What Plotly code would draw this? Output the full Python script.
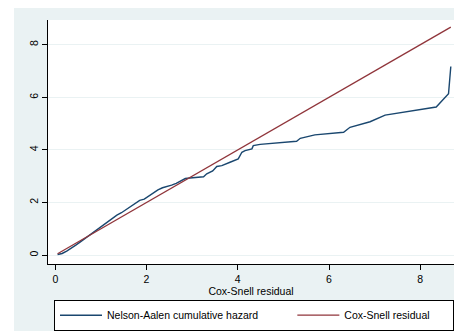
import plotly.graph_objects as go

# Cox-Snell residuals (sorted) and Nelson-Aalen cumulative hazard
cox_snell = [0.05, 0.15, 0.25, 0.35, 0.45, 0.55, 0.65, 0.75, 0.85, 0.95,
             1.05, 1.15, 1.25, 1.35, 1.45, 1.55, 1.65, 1.75, 1.85, 1.95,
             2.05, 2.15, 2.25, 2.35, 2.45, 2.55, 2.65, 2.75, 2.85, 2.95,
             3.05, 3.15, 3.25, 3.32, 3.45, 3.54, 3.65, 3.83, 3.95, 4.01,
             4.09, 4.16, 4.31, 4.34, 4.49, 5.29, 5.37, 5.69, 6.32, 6.46,
             6.90, 7.23, 8.35, 8.62, 8.67]
nelson_aalen = [0.02, 0.06, 0.15, 0.28, 0.38, 0.50, 0.63, 0.76, 0.88, 1.02,
                1.15, 1.26, 1.39, 1.52, 1.61, 1.73, 1.84, 1.97, 2.08, 2.13,
                2.24, 2.38, 2.48, 2.56, 2.60, 2.66, 2.73, 2.82, 2.91, 2.93,
                2.94, 2.97, 2.98, 3.09, 3.20, 3.37, 3.40, 3.53, 3.60, 3.66,
                3.91, 3.97, 4.04, 4.16, 4.21, 4.33, 4.44, 4.57, 4.67, 4.86,
                5.07, 5.32, 5.63, 6.14, 7.17]

x_ticks = [0, 2, 4, 6, 8]
y_ticks = [0, 2, 4, 6, 8]

series_names = ["Nelson-Aalen cumulative hazard", "Cox-Snell residual"]

BG = "#eaf2f3"
FONT = "Liberation Sans, Arial, sans-serif"
FS = 10.5
NB = "\u00a0"

fig = go.Figure()
fig.add_trace(go.Scatter(x=cox_snell, y=nelson_aalen, mode="lines",
                         name=series_names[0] + NB * 10,
                         line=dict(color="#1a476f", width=1.4)))
fig.add_trace(go.Scatter(x=cox_snell, y=cox_snell, mode="lines",
                         name=series_names[1] + NB * 6,
                         line=dict(color="#90353b", width=1.3)))

W, H = 454, 331
L, R, T, B = 48, 0, 20, 65
pw, ph = W - L - R, H - T - B

fig.update_layout(
    width=W, height=H,
    margin=dict(l=L, r=R, t=T, b=B, pad=0),
    paper_bgcolor=BG, plot_bgcolor="white",
    font=dict(family=FONT, size=FS, color="black"),
    showlegend=True,
    legend=dict(orientation="h", x=7 / pw, y=-(302 - 266) / ph,
                xanchor="left", yanchor="top",
                bgcolor="white", bordercolor="black", borderwidth=1,
                itemwidth=42,
                font=dict(family=FONT, size=FS)),
    shapes=[
        dict(type="rect", xref="paper", yref="paper", layer="below",
             x0=-0.5, x1=(14 - L) / pw, y0=-0.5, y1=1.5,
             fillcolor="white", line=dict(width=0)),
        dict(type="rect", xref="paper", yref="paper", layer="below",
             x0=-0.5, x1=1.5, y0=(266 - 8) / ph, y1=1.5,
             fillcolor="white", line=dict(width=0)),
    ],
)
fig.update_xaxes(range=[-0.16, 8.74], tickvals=x_ticks,
                 ticks="outside", ticklen=5, tickcolor="black",
                 showline=True, linecolor="black", linewidth=1,
                 showgrid=False, zeroline=False,
                 title=dict(text="Cox-Snell residual", standoff=0,
                            font=dict(family=FONT, size=FS)))
fig.update_yaxes(range=[-0.34, 8.94], tickvals=y_ticks, tickangle=-90,
                 ticks="outside", ticklen=5, tickcolor="black",
                 showline=True, linecolor="black", linewidth=1,
                 showgrid=True, gridcolor=BG, gridwidth=1,
                 zeroline=False)

fig.write_html("out.html",
               config={"displayModeBar": False},
               post_script="document.body.style.margin='0';"
                           "document.body.style.overflow='hidden';")
